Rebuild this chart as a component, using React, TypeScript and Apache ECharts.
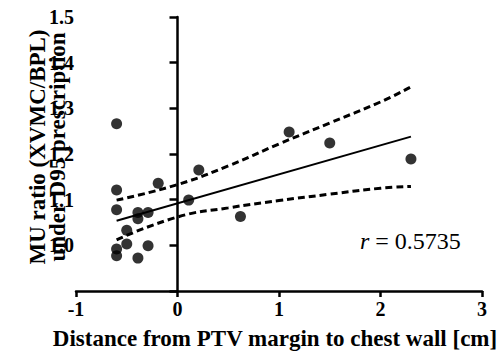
import React, { useEffect, useRef } from "react";
import * as echarts from "echarts";

// Data
const distance = [-0.6, -0.6, -0.6, -0.6, -0.6, -0.5, -0.5, -0.39, -0.39, -0.39, -0.29, -0.29, -0.19, 0.11, 0.21, 0.62, 1.1, 1.5, 2.3];
const muRatio = [1.266, 1.121, 1.078, 0.992, 0.977, 1.033, 1.003, 1.072, 1.058, 0.972, 1.072, 0.999, 1.136, 1.099, 1.165, 1.063, 1.248, 1.224, 1.189];

const fitX = [-0.6, 2.3];
const fitY = [1.054, 1.238];

const bandX = [-0.6, 0, 0.5, 1, 1.5, 2, 2.3];
const upperBand = [1.099, 1.133, 1.174, 1.222, 1.268, 1.314, 1.347];
const lowerBand = [1.012, 1.062, 1.082, 1.098, 1.112, 1.125, 1.129];

const xTickLabels = ["-1", "0", "1", "2", "3"];
const yTickLabels = ["1.0", "1.1", "1.2", "1.3", "1.4", "1.5"];

const xTitle = "Distance from PTV margin to chest wall [cm]";
const yTitle = "MU ratio (XVMC/BPL)\nunder D95 prescription";
const rValue = "0.5735";

const FONT = "'Liberation Serif', 'Times New Roman', serif";

export default function App() {
  const ref = useRef<HTMLDivElement>(null);

  useEffect(() => {
    if (!ref.current) return;
    const chart = echarts.init(ref.current, null, { renderer: "svg" });
    const pts = distance.map((d, i) => [d, muRatio[i]]);
    const fit = fitX.map((x, i) => [x, fitY[i]]);
    const up = bandX.map((x, i) => [x, upperBand[i]]);
    const lo = bandX.map((x, i) => [x, lowerBand[i]]);

    chart.setOption({
      animation: false,
      backgroundColor: "#ffffff",
      grid: { left: 76, right: 20, top: 17, bottom: 61, containLabel: false },
      xAxis: {
        type: "value",
        min: -1,
        max: 3,
        interval: 1,
        axisLine: { onZero: false, lineStyle: { color: "#000", width: 2.5 } },
        axisTick: { show: true, length: 6, lineStyle: { color: "#000", width: 2.5 } },
        axisLabel: {
          color: "#000",
          fontFamily: FONT,
          fontWeight: 700,
          fontSize: 20,
          margin: 8,
          formatter: (v: number) => {
            const s = String(Math.round(v));
            return xTickLabels.includes(s) ? s : "";
          },
        },
        splitLine: { show: false },
      },
      yAxis: {
        type: "value",
        min: 0.9,
        max: 1.5,
        interval: 0.1,
        axisLine: { onZero: true, lineStyle: { color: "#000", width: 2.5 } },
        axisTick: { show: true, length: 8, lineStyle: { color: "#000", width: 2.5 } },
        axisLabel: {
          color: "#000",
          fontFamily: FONT,
          fontWeight: 700,
          fontSize: 20,
          margin: 2,
          showMinLabel: true,
          showMaxLabel: true,
          hideOverlap: false,
          formatter: (v: number) => {
            const s = (Math.round(v * 10) / 10).toFixed(1);
            return yTickLabels.includes(s) ? s : "";
          },
        },
        splitLine: { show: false },
      },
      graphic: [
        {
          type: "text",
          x: 47,
          y: 147,
          rotation: Math.PI / 2,
          style: {
            text: yTitle,
            fill: "#000",
            font: `bold 23px ${FONT}`,
            lineHeight: 20,
            align: "center",
            verticalAlign: "middle",
          },
        },
        {
          type: "text",
          x: 275,
          y: 338,
          style: {
            text: xTitle,
            fill: "#000",
            font: `bold 23px ${FONT}`,
            align: "center",
            verticalAlign: "middle",
          },
        },
        {
          type: "text",
          x: 360,
          y: 241,
          style: {
            text: `{i|r} = ${rValue}`,
            fill: "#000",
            font: `24px ${FONT}`,
            align: "left",
            verticalAlign: "middle",
            rich: {
              i: { fontStyle: "italic", fontFamily: FONT, fontSize: 24, fill: "#000" },
            },
          },
        },
      ],
      series: [
        {
          type: "line",
          data: up,
          symbol: "none",
          smooth: true,
          lineStyle: { color: "#000", width: 3, type: [7, 4] },
          z: 2,
        },
        {
          type: "line",
          data: lo,
          symbol: "none",
          smooth: true,
          lineStyle: { color: "#000", width: 3, type: [7, 4] },
          z: 2,
        },
        {
          type: "line",
          data: fit,
          symbol: "none",
          lineStyle: { color: "#000", width: 2 },
          z: 2,
        },
        {
          type: "scatter",
          data: pts,
          symbol: "circle",
          symbolSize: 11,
          itemStyle: { color: "#000" },
          z: 3,
        },
      ],
    });
    return () => chart.dispose();
  }, []);

  return (
    <div
      ref={ref}
      style={{ position: "fixed", left: 0, top: 0, width: 502, height: 352, background: "#fff" }}
    />
  );
}
